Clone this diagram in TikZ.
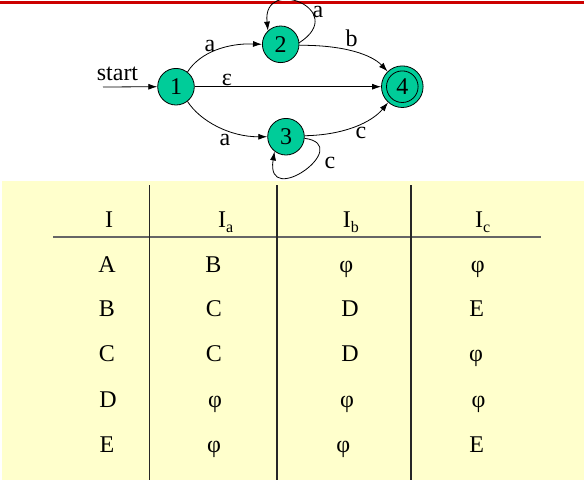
\documentclass[tikz,border=0pt]{standalone}
\usepackage{fontspec}
\setmainfont{Liberation Serif}
\usetikzlibrary{arrows.meta}
\definecolor{nodegreen}{RGB}{0,204,153}
\definecolor{tblyellow}{RGB}{255,255,204}
\definecolor{topred}{RGB}{204,0,0}
\newcommand{\sub}[1]{\raisebox{-5pt}{\fontsize{16}{16}\selectfont #1}}
\begin{document}
\begin{tikzpicture}[x=1pt,y=-1pt,
  state/.style={circle, draw, fill=nodegreen, minimum size=36.6pt, inner sep=0pt,
    line width=0.8pt, font=\fontsize{24}{24}\selectfont},
  acceptstate/.style={state, minimum size=41.6pt},
  edgearrow/.style={-{Latex[length=9pt,width=6pt]}, line width=0.8pt},
  lbl/.style={inner sep=0pt, font=\fontsize{24}{24}\selectfont},
  cell/.style={inner sep=0pt, anchor=base, font=\fontsize{24}{24}\selectfont},
  hcell/.style={inner sep=0pt, anchor=base west, font=\fontsize{24}{24}\selectfont},
  vrule/.style={line width=1.2pt, draw=black!85},
  hrule/.style={line width=1.6pt, draw=black!60}]
\useasboundingbox (0,0) rectangle (584,480);
% top red line and table background
\draw[topred, line width=3pt] (0,2.5) -- (584,2.5);
\fill[tblyellow] (2,181) rectangle (584,480);

% automaton
\node[state] (n1) at (176,86.7) {1};
\node[state] (n2) at (280.7,44.3) {2};
\node[state] (n3) at (286,136.7) {3};
\node[acceptstate] (n4) at (402.3,86.7) {4};
\draw[line width=0.8pt] (n4.center) circle (15.8pt);

\coordinate (s0) at (103,87);
\node[lbl] (tstart) at (117.5,73.4) {start};
\draw[edgearrow] (s0) -- (n1.west);

\draw[edgearrow] (n1.52) .. controls (200,52) and (228,43) .. (n2.west);
\draw[edgearrow] (n1.-52) .. controls (200,121) and (230,137) .. (n3.west);
\draw[edgearrow] (n1.east) -- (n4.west);
\draw[edgearrow] (n2.-3) .. controls (345,45) and (372,55) .. (n4.134);
\draw[edgearrow] (n3.3) .. controls (345,135) and (372,122) .. (n4.-132);
\draw[edgearrow] (n2.5) .. controls (350,10) and (262,-25) .. (n2.133);
\draw[edgearrow] (n3.-5) .. controls (355,145) and (265,210) .. (n3.-128);

\node[lbl] (la12) at (210,46) {a};
\node[lbl] (la13) at (225,140) {a};
\node[lbl] (leps) at (227,80) {ε};
\node[lbl] (lb24) at (351.7,38) {b};
\node[lbl] (lc34) at (361,133) {c};
\node[lbl] (la22) at (318,12) {a};
\node[lbl] (lc33) at (330,163) {c};

% table rules
\coordinate (v1t) at (149.5,185); \coordinate (v1b) at (149.5,480);
\coordinate (v2t) at (277,185);   \coordinate (v2b) at (277,480);
\coordinate (v3t) at (411,185);   \coordinate (v3b) at (411,480);
\coordinate (hl) at (53,237);     \coordinate (hr) at (541,237);
\draw[hrule] (hl) -- (hr);
\draw[vrule] (v1t) -- (v1b);
\draw[vrule] (v2t) -- (v2b);
\draw[vrule] (v3t) -- (v3b);

% header
\node[cell] (h1) at (109,227.7) {I};
\node[hcell] (h2) at (218,227.7) {I\sub{a}};
\node[hcell] (h3) at (342.6,227.7) {I\sub{b}};
\node[hcell] (h4) at (474.9,227.7) {I\sub{c}};

% rows
\node[cell] (r1c1) at (107,272.3) {A};
\node[cell] (r1c2) at (213.4,272.3) {B};
\node[cell] (r1c3) at (346.4,272.3) {φ};
\node[cell] (r1c4) at (477.8,272.3) {φ};

\node[cell] (r2c1) at (107,316.7) {B};
\node[cell] (r2c2) at (214,316.7) {C};
\node[cell] (r2c3) at (350,316.7) {D};
\node[cell] (r2c4) at (476.7,316.7) {E};

\node[cell] (r3c1) at (107,361.7) {C};
\node[cell] (r3c2) at (214,361.7) {C};
\node[cell] (r3c3) at (350,361.7) {D};
\node[cell] (r3c4) at (476,361.7) {φ};

\node[cell] (r4c1) at (108,407.3) {D};
\node[cell] (r4c2) at (215,407.3) {φ};
\node[cell] (r4c3) at (347,407.3) {φ};
\node[cell] (r4c4) at (478.6,407.3) {φ};

\node[cell] (r5c1) at (107,452.3) {E};
\node[cell] (r5c2) at (214,452.3) {φ};
\node[cell] (r5c3) at (343.4,452.3) {φ};
\node[cell] (r5c4) at (476.7,452.3) {E};
\end{tikzpicture}
\end{document}
